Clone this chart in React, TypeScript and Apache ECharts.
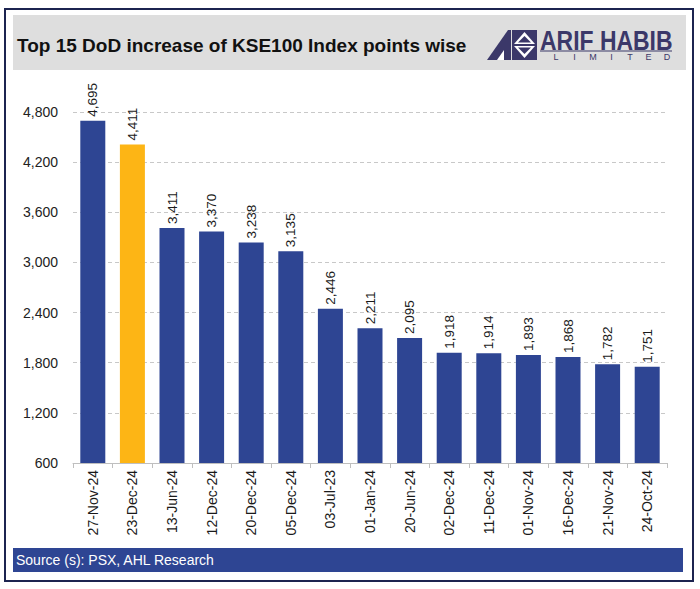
import React, { useEffect, useRef } from "react";
import * as echarts from "echarts";

const categories = [
  "27-Nov-24", "23-Dec-24", "13-Jun-24", "12-Dec-24", "20-Dec-24", "05-Dec-24", "03-Jul-23",
  "01-Jan-24", "20-Jun-24", "02-Dec-24", "11-Dec-24", "01-Nov-24", "16-Dec-24", "21-Nov-24", "24-Oct-24",
];
const values = [4695, 4411, 3411, 3370, 3238, 3135, 2446, 2211, 2095, 1918, 1914, 1893, 1868, 1782, 1751];
const highlightIndex = 1;
const titleText = "Top 15 DoD increase of KSE100 Index points wise";
const sourceText = "Source (s): PSX, AHL Research";

const NAVY = "#2E4593";
const GOLD = "#FDB515";
const LOGO = "#3B3869";
const FONT = "'Liberation Sans', Arial, sans-serif";

export default function App() {
  const ref = useRef<HTMLDivElement>(null);
  useEffect(() => {
    if (!ref.current) return;
    const chart = echarts.init(ref.current, null, { renderer: "svg" });
    const limited = "LIMITED".split("");
    chart.setOption({
      animation: false,
      backgroundColor: "#ffffff",
      grid: { left: 73, right: 33, top: 112, bottom: 126, containLabel: false },
      xAxis: {
        type: "category",
        data: categories,
        axisLine: { show: true, lineStyle: { color: "#bfbfbf", width: 1 } },
        axisTick: { show: true, alignWithLabel: false, length: 5, lineStyle: { color: "#bfbfbf" } },
        axisLabel: {
          rotate: 90,
          margin: 7,
          fontFamily: FONT,
          fontSize: 14,
          color: "#1a1a1a",
        },
      },
      yAxis: {
        type: "value",
        min: 600,
        max: 4800,
        interval: 600,
        axisLine: { show: false },
        axisTick: { show: false },
        splitLine: { show: true, lineStyle: { color: "#c8c8c8", type: [4, 3], width: 1 } },
        axisLabel: {
          margin: 15,
          fontFamily: FONT,
          fontSize: 14,
          color: "#222222",
          formatter: (v: number) => v.toLocaleString("en-US"),
        },
      },
      series: [
        {
          type: "bar",
          barWidth: 25,
          data: values.map((v, i) => ({
            value: v,
            itemStyle: { color: i === highlightIndex ? GOLD : NAVY },
          })),
          label: {
            show: true,
            position: "top",
            rotate: 90,
            align: "left",
            verticalAlign: "middle",
            distance: 4,
            fontFamily: FONT,
            fontSize: 13.5,
            color: "#1a1a1a",
            formatter: (p: any) => Number(p.value).toLocaleString("en-US"),
          },
        },
      ],
      graphic: [
        {
          type: "rect",
          shape: { x: 5, y: 9, width: 688, height: 572 },
          style: { fill: "none", stroke: "#1c2450", lineWidth: 2 },
          silent: true,
        },
        {
          type: "rect",
          shape: { x: 13, y: 15, width: 673, height: 55 },
          style: { fill: "#dedede" },
          silent: true,
          z: -1,
        },
        {
          type: "text",
          x: 17,
          y: 45,
          style: {
            text: titleText,
            font: "bold 19px " + FONT,
            fill: "#111111",
            verticalAlign: "middle",
          },
        },
        {
          type: "polygon",
          shape: { points: [[487, 60], [508, 30], [511, 30], [511, 60]] },
          style: { fill: LOGO },
        },
        {
          type: "polygon",
          shape: { points: [[497, 60], [504, 50], [504, 60]] },
          style: { fill: "#ffffff" },
        },
        {
          type: "rect",
          shape: { x: 512, y: 30, width: 25, height: 30 },
          style: { fill: LOGO },
        },
        {
          type: "polygon",
          shape: { points: [[524.5, 32], [514, 44], [535, 44]] },
          style: { fill: "#ffffff" },
        },
        {
          type: "polygon",
          shape: { points: [[524.5, 36], [518, 42.5], [531, 42.5]] },
          style: { fill: LOGO },
        },
        {
          type: "polygon",
          shape: { points: [[514, 46], [535, 46], [524.5, 58]] },
          style: { fill: "#ffffff" },
        },
        {
          type: "polygon",
          shape: { points: [[518, 47.5], [531, 47.5], [524.5, 54]] },
          style: { fill: LOGO },
        },
        {
          type: "text",
          x: 540,
          y: 40,
          scaleX: 0.85,
          style: {
            text: "ARIF HABIB",
            font: "bold 27px " + FONT,
            fill: LOGO,
            verticalAlign: "middle",
          },
        },
        {
          type: "line",
          shape: { x1: 540, y1: 51, x2: 672, y2: 51 },
          style: { stroke: LOGO, lineWidth: 1.2 },
        },
        ...limited.map((ch, i) => ({
          type: "text",
          x: 556 + i * 18.5,
          y: 57,
          style: {
            text: ch,
            font: "9px " + FONT,
            fill: LOGO,
            align: "center",
            verticalAlign: "middle",
          },
        })),
        {
          type: "rect",
          shape: { x: 13, y: 548, width: 670, height: 24 },
          style: { fill: NAVY },
        },
        {
          type: "text",
          x: 16,
          y: 560,
          style: {
            text: sourceText,
            font: "14px " + FONT,
            fill: "#ffffff",
            verticalAlign: "middle",
          },
        },
      ],
    });
    return () => chart.dispose();
  }, []);
  return (
    <div
      ref={ref}
      style={{ position: "fixed", left: 0, top: 0, width: 700, height: 589, background: "#fff" }}
    />
  );
}
